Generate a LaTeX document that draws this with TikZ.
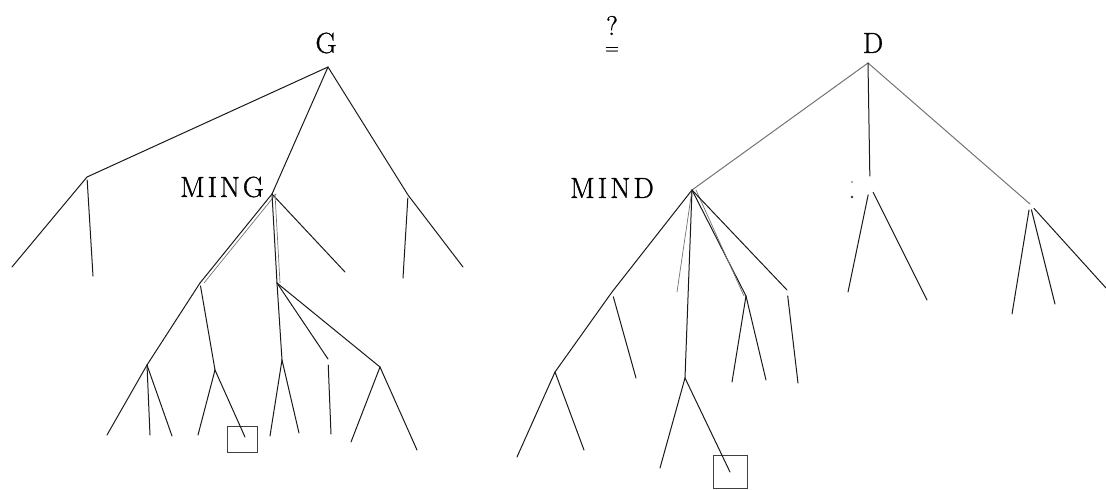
\documentclass[tikz,border=0pt]{standalone}
\usepackage{fontspec}
\newfontfamily\lblfont{Latin Modern Roman}[FakeBold=1]
\begin{document}
\begin{tikzpicture}[x=1pt,y=-1pt,
  br/.style={line width=1pt, black!90, line cap=round},
  lt/.style={line width=0.7pt, black!55, line cap=round},
  gr/.style={line width=1pt, black!55, line cap=round},
  lbl/.style={font=\lblfont\fontsize{29}{32}\selectfont, inner sep=0pt},
  sq/.style={draw=black!75, line width=0.8pt, minimum width=30pt, minimum height=26pt, inner sep=0pt}]
\useasboundingbox (0,0) rectangle (1106,490);

% ---------- labels ----------
\node[lbl] (Glbl) at (326,43) {G};
\node[lbl] (Dlbl) at (873,43) {D};
\node[lbl] (minglbl) at (222,187) {M\kern2.8pt I\kern2.8pt N\kern2.8pt G};
\node[lbl] (mindlbl) at (612,188) {M\kern3pt I\kern3pt N\kern3pt D};
\node[inner sep=0pt, align=center, font=\lblfont\fontsize{27}{19}\selectfont] (q) at (612,35) {?\\{\fontsize{19}{19}\selectfont =}};

% ---------- left tree ----------
\coordinate (g) at (328,67);
\coordinate (a) at (87,177);
\coordinate (a1) at (12,267);
\coordinate (a2) at (93,276);
\coordinate (m) at (272,194);
\coordinate (r) at (408,195);
\coordinate (r1) at (403,278);
\coordinate (r2) at (463,267);
\coordinate (m3) at (345,272);
\coordinate (b) at (200,283);
\coordinate (c) at (277,283);
\coordinate (d1) at (147,365);
\coordinate (d11) at (107,435);
\coordinate (d12) at (150,435);
\coordinate (d13) at (172,436);
\coordinate (d2) at (215,370);
\coordinate (d21) at (198,435);
\coordinate (d22) at (245,437);
\coordinate (e1) at (282,360);
\coordinate (e11) at (270,436);
\coordinate (e12) at (299,433);
\coordinate (f) at (328,359);
\coordinate (f1) at (331,434);
\coordinate (e3) at (380,367);
\coordinate (e31) at (351,442);
\coordinate (e32) at (417,450);
\node[sq] (box1) at (242,439) {};

\draw[br] (a1) -- (a) -- (g) -- (r) -- (r2);
\draw[br, shorten <=3pt] (a) -- (a2);
\draw[br, shorten <=3pt] (r) -- (r1);
\draw[br] (g) -- (m);
\draw[br] (m) -- (m3);
\draw[br] (m) -- (b);
\draw[lt] ([xshift=4pt]m) -- ([xshift=4pt]b);
\draw[br] (m) -- (c);
\draw[lt] ([xshift=3pt]m) -- ([xshift=3pt]c);
\draw[br] (b) -- (d1);
\draw[br, shorten <=3pt] (b) -- (d2);
\draw[br] (d1) -- (d11);
\draw[br] (d1) -- (d12);
\draw[br] (d1) -- (d13);
\draw[br] (d2) -- (d21);
\draw[br] (d2) -- (d22);
\draw[br] (c) -- (e1);
\draw[br] (c) -- (f);
\draw[br] (c) -- (e3);
\draw[br] (e1) -- (e11);
\draw[br] (e1) -- (e12);
\draw[br, shorten <=6pt] (f) -- (f1);
\draw[br] (e3) -- (e31);
\draw[br] (e3) -- (e32);

% ---------- right tree ----------
\coordinate (dr) at (868,63);
\coordinate (n) at (692,190);
\coordinate (mid) at (870,186);
\coordinate (mid1) at (848,292);
\coordinate (mid2) at (927,300);
\coordinate (rn) at (1030,204);
\coordinate (rn1) at (1012,314);
\coordinate (rn2) at (1055,304);
\coordinate (rn3) at (1106,288);
\coordinate (h1) at (612,292);
\coordinate (h2) at (555,372);
\coordinate (h11) at (636,378);
\coordinate (h21) at (517,457);
\coordinate (h22) at (584,450);
\coordinate (s) at (677,292);
\coordinate (j) at (685,378);
\coordinate (j1) at (660,468);
\coordinate (j2) at (730,472);
\coordinate (k) at (746,296);
\coordinate (k1) at (732,382);
\coordinate (k2) at (766,380);
\coordinate (l) at (787,290);
\coordinate (l1) at (798,383);
\node[sq, minimum width=34pt, minimum height=33pt] (box2) at (730,471.5) {};

\draw[gr] (dr) -- (n);
\draw[gr] (dr) -- (rn);
\draw[br, shorten >=10pt] (dr) -- (mid);
\draw[br, shorten <=9pt] (mid) -- (mid1);
\draw[br, shorten <=7pt] (mid) -- (mid2);
\fill[black!45] (852,182) circle (1.2pt);
\fill[black!80] (852,197) circle (1.4pt);
\draw[br, shorten <=6pt] (rn) -- (rn1);
\draw[br, shorten <=6pt] (rn) -- (rn2);
\draw[br, shorten <=6pt] (rn) -- (rn3);

\draw[br] (n) -- (h1) -- (h2) -- (h21);
\draw[br] (h2) -- (h22);
\draw[br, shorten <=5pt] (h1) -- (h11);
\draw[lt] (n) -- (s);
\draw[br] (n) -- (j);
\draw[br] (j) -- (j1);
\draw[br] (j) -- (j2);
\draw[br] (n) -- (k);
\draw[lt] ([xshift=4pt]n) -- ([xshift=-2pt]k);
\draw[br] (k) -- (k1);
\draw[br] (k) -- (k2);
\draw[br] (n) -- (l);
\draw[br, shorten <=6pt] (l) -- (l1);
\end{tikzpicture}
\end{document}
